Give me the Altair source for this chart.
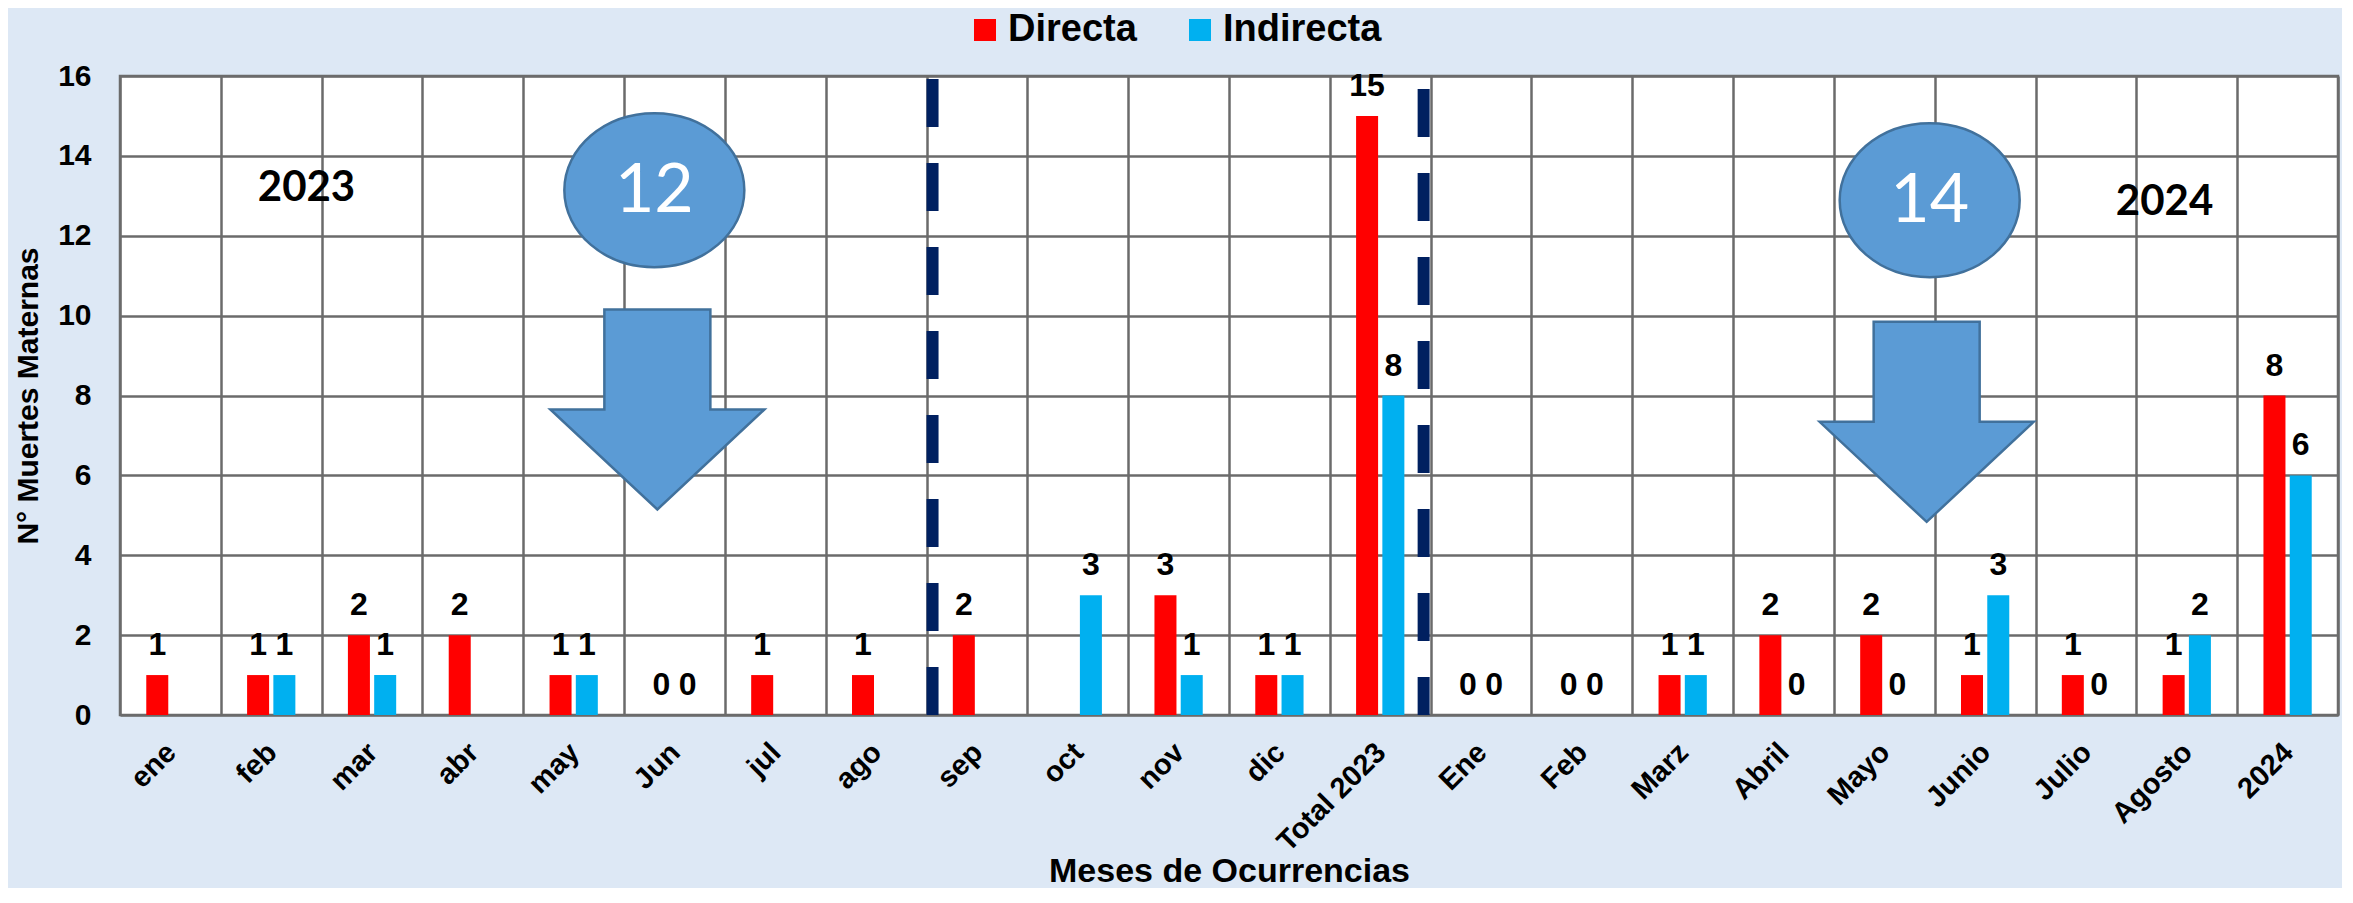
import altair as alt
import pandas as pd

# ---------------- data ----------------
categories = ["ene", "feb", "mar", "abr", "may", "Jun", "jul", "ago", "sep", "oct",
              "nov", "dic", "Total 2023", "Ene", "Feb", "Marz", "Abril", "Mayo",
              "Junio", "Julio", "Agosto", "2024"]
directa = [1, 1, 2, 2, 1, 0, 1, 1, 2, None, 3, 1, 15, 0, 0, 1, 2, 2, 1, 1, 1, 8]
indirecta = [None, 1, 1, None, 1, 0, None, None, None, 3, 1, 1, 8, 0, 0, 1, 0, 0, 3, 0, 2, 6]
series = ["Directa", "Indirecta"]
y_ticks = [0, 2, 4, 6, 8, 10, 12, 14, 16]

# separators (dashed lines) at the start of these categories
sep_left = ["sep"]
sep_right = ["Ene"]

# annotations (positions in data space: category index, y value)
bubble_text = ["12", "14"]
bubble_pos = [5.30, 17.95]
bubble_y = [13.14, 12.89]
arrow_pos = [5.33, 17.92]
arrow_y = [7.65, 7.34]
year_text = ["2023", "2024"]
year_pos = [1.85, 20.28]
year_y = [13.19, 12.84]

rows = []
for c, d, i in zip(categories, directa, indirecta):
    if d is not None:
        rows.append({"cat": c, "serie": "Directa", "val": d})
    if i is not None:
        rows.append({"cat": c, "serie": "Indirecta", "val": i})
df = pd.DataFrame(rows)

FONT = "Liberation Sans"
GRID = "#6B6B6B"

x_axis = alt.Axis(
    title="Meses de Ocurrencias", labels=False, ticks=False, tickSize=0,
    domain=False, grid=True, gridColor=GRID, gridWidth=2.5, gridOpacity=1,
    tickBand="extent",
    titleFont=FONT, titleFontSize=34, titleFontWeight="bold", titleColor="black",
    titleY=166, titleBaseline="alphabetic",
)
x_scale = alt.Scale(paddingInner=0, paddingOuter=0)
x_enc = alt.X("cat:N", sort=categories, scale=x_scale, axis=x_axis)
x_rule = alt.X("cat:N", sort=categories, scale=x_scale, axis=x_axis, bandPosition=0)

y_axis = alt.Axis(
    values=y_ticks, title="N° Muertes Maternas", grid=True, gridColor=GRID, gridWidth=2.5,
    gridOpacity=1, ticks=False, tickSize=0, domain=False, labelFont=FONT, labelFontSize=30,
    labelFontWeight="bold", labelColor="black", labelPadding=29,
    titleFont=FONT, titleFontSize=30, titleFontWeight="bold", titleColor="black",
    titleX=-91.5, titleY=319.5, titleBaseline="middle", titleAngle=270,
)
y_enc = alt.Y("val:Q", scale=alt.Scale(domain=[0, 16], nice=False), axis=y_axis)

xo_enc = alt.XOffset("serie:N", sort=series,
                     scale=alt.Scale(paddingInner=0.162, paddingOuter=1))

base = alt.Chart(df)

bars = base.mark_bar().encode(
    x=x_enc, xOffset=xo_enc, y=y_enc,
    color=alt.Color(
        "serie:N", sort=series,
        scale=alt.Scale(domain=series, range=["#FF0000", "#00B0F0"]),
        legend=alt.Legend(
            orient="none", legendX=846, legendY=-65, direction="horizontal", title=None,
            labelFont=FONT, labelFontSize=38, labelFontWeight="bold", labelColor="black",
            symbolType="square", symbolSize=484, symbolStrokeWidth=0, symbolOpacity=1,
            labelOffset=4, columnPadding=44, padding=0, labelLimit=400,
        ),
    ),
)

labels = base.mark_text(
    font=FONT, fontSize=32, fontWeight="bold", color="black", baseline="alphabetic", dy=-20
).encode(x=x_enc, xOffset=xo_enc, y=y_enc, text="val:Q")

# category tick labels, rotated 45 degrees
tick_labels = alt.Chart(pd.DataFrame({"cat": categories})).mark_text(
    font=FONT, fontSize=29, fontWeight="bold", color="black",
    angle=315, align="right", baseline="top", xOffset=-9
).encode(x=x_enc, y=alt.value(662), text="cat:N")

rule1 = alt.Chart(pd.DataFrame({"cat": sep_left})).mark_rule(
    color="#002060", strokeWidth=12, strokeDash=[48, 36], strokeCap="butt", xOffset=6
).encode(x=x_rule, y=alt.datum(0), y2=alt.datum(16))

rule2 = alt.Chart(pd.DataFrame({"cat": sep_right})).mark_rule(
    color="#002060", strokeWidth=12, strokeDash=[48, 36], strokeDashOffset=71,
    strokeCap="butt", xOffset=-7
).encode(x=x_rule, y=alt.datum(16), y2=alt.datum(0))

main = alt.layer(rule1, rule2, bars, labels, tick_labels)

# ---------------- annotations ----------------
ELLIPSE = ("M -90 0 C -90 -42.5 -49.7 -77 0 -77 C 49.7 -77 90 -42.5 90 0 "
           "C 90 42.5 49.7 77 0 77 C -49.7 77 -90 42.5 -90 0 Z")
ARROW = "M -53 -100 L 53 -100 L 53 0 L 107 0 L 0 100 L -107 0 L -53 0 Z"

ax_scale = alt.Scale(domain=[0, 22], nice=False, zero=False)
ay_scale = alt.Scale(domain=[0, 16], nice=False)

bub = alt.Chart(pd.DataFrame({"ax": bubble_pos, "ay": bubble_y, "t": bubble_text}))
ellipses = bub.mark_point(
    shape=ELLIPSE, size=4, filled=True, fill="#5B9BD5", stroke="#41719C",
    strokeWidth=2.5, opacity=1, fillOpacity=1, strokeOpacity=1
).encode(x=alt.X("ax:Q", scale=ax_scale, axis=None), y=alt.Y("ay:Q", scale=ay_scale, axis=None))
bub_txt = bub.mark_text(
    font="Lato", fontSize=68, color="white", baseline="middle", dy=2
).encode(x=alt.X("ax:Q", scale=ax_scale, axis=None), y=alt.Y("ay:Q", scale=ay_scale, axis=None),
         text="t:N")

arr = alt.Chart(pd.DataFrame({"ax": arrow_pos, "ay": arrow_y}))
arrows = arr.mark_point(
    shape=ARROW, size=4, filled=True, fill="#5B9BD5", stroke="#41719C",
    strokeWidth=2.5, opacity=1, fillOpacity=1, strokeOpacity=1
).encode(x=alt.X("ax:Q", scale=ax_scale, axis=None), y=alt.Y("ay:Q", scale=ay_scale, axis=None))

yr = alt.Chart(pd.DataFrame({"ax": year_pos, "ay": year_y, "t": year_text}))
years = yr.mark_text(
    font="Lato", fontSize=42, fontWeight="bold", color="black", baseline="middle"
).encode(x=alt.X("ax:Q", scale=ax_scale, axis=None), y=alt.Y("ay:Q", scale=ay_scale, axis=None),
         text="t:N")

annot = alt.layer(ellipses, bub_txt, arrows, years)

chart = alt.layer(main, annot).resolve_scale(x="independent", y="independent").properties(
    width=2218, height=639,
    padding={"left": 112, "top": 68, "right": 4, "bottom": 173},
    autosize=alt.AutoSizeParams(type="none"),
).configure(background="#DDE8F5").configure_view(
    stroke=GRID, strokeWidth=2.5, fill="white"
)

chart.save("out.html", embed_options={"renderer": "svg", "actions": False})
